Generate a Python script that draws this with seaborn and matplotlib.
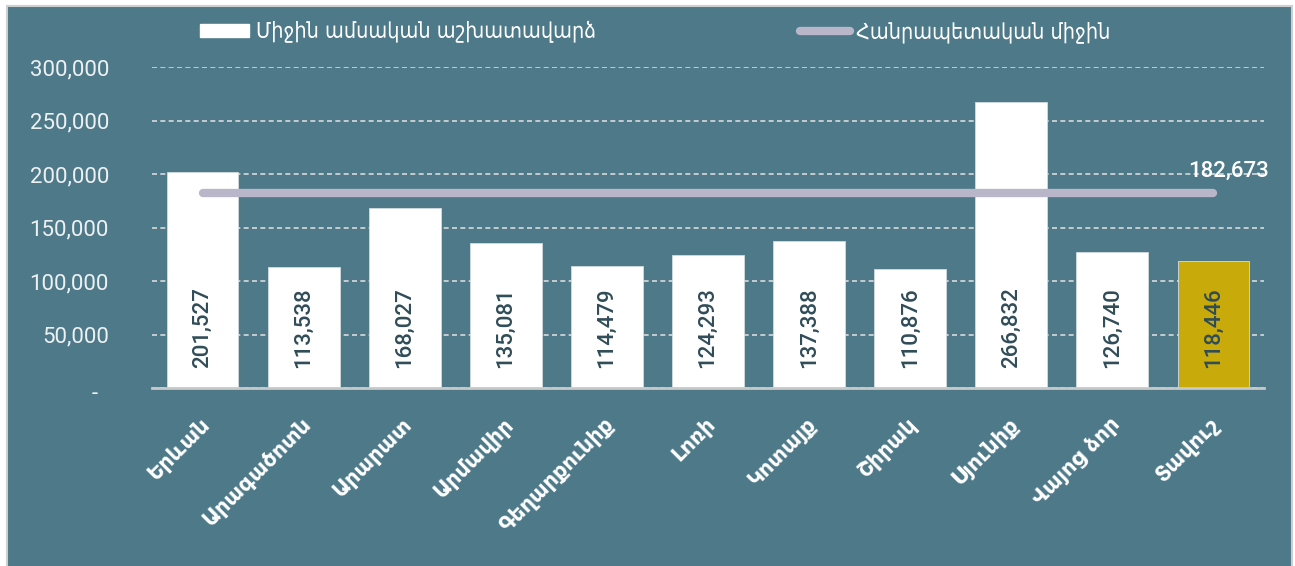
import matplotlib
matplotlib.use("Agg")
import matplotlib.pyplot as plt
import matplotlib.patches as patches
import matplotlib.transforms as mtransforms
from matplotlib.lines import Line2D
import seaborn as sns

regions = ["Երևան", "Արագածոտն", "Արարատ", "Արմավիր", "Գեղարքունիք", "Լոռի",
           "Կոտայք", "Շիրակ", "Սյունիք", "Վայոց ձոր", "Տավուշ"]
salaries = [201527, 113538, 168027, 135081, 114479, 124293,
            137388, 110876, 266832, 126740, 118446]
national_avg = 182673
yticks = [0, 50000, 100000, 150000, 200000, 250000, 300000]
legend_labels = ["Միջին ամսական աշխատավարձ", "Հանրապետական միջին"]

bg = "#4D7989"
bar_white = "#FFFFFF"
bar_gold = "#C9AA0B"
avg_color = "#B9B6C9"
label_dark = "#2F4C58"
num_font = ["Roboto", "DejaVu Sans"]

bar_colors = {r: bar_white for r in regions}
bar_colors[regions[-1]] = bar_gold

fig = plt.figure(figsize=(12.95, 5.66), dpi=100)
fig.patch.set_facecolor("white")
panel = patches.Rectangle((7 / 1295, -0.01), 1285 / 1295, 560 / 566 + 0.01,
                          transform=fig.transFigure, facecolor=bg,
                          edgecolor="#CFCFCF", linewidth=1.5, zorder=-10)
fig.add_artist(panel)

ax = fig.add_axes([152 / 1295, 1 - 388 / 566, 1112 / 1295, 321 / 566])
ax.set_facecolor("none")
ax.set_zorder(2)

sns.barplot(x=regions, y=salaries, hue=regions, palette=bar_colors, legend=False,
            saturation=1, width=0.71, edgecolor="#D3DCE0", linewidth=0.6, ax=ax, zorder=3)

# national average line
n = len(regions)
ax.plot([0, n - 1], [national_avg, national_avg], color=avg_color, lw=6,
        solid_capstyle="round", zorder=4)
ax.text(n - 1 + 0.15, national_avg + 9500, f"{national_avg:,}", color="white",
        fontsize=16, family=num_font, fontweight="medium", ha="center", va="bottom", zorder=5)

# values inside bars
for i, v in enumerate(salaries):
    ax.text(i, 19000, f"{v:,}", rotation=90, ha="center", va="bottom",
            color=label_dark, fontsize=16, family=num_font, fontweight="medium", zorder=5)

ax.set_xlim(-0.5, n - 0.5)
ax.set_ylim(0, 300000)
ax.set_yticks(yticks)
ax.set_yticklabels([f"{t:,}" if t else "-" for t in yticks],
                   family=num_font, fontsize=16, color="#EEF1F2")
ax.tick_params(axis="y", length=0, pad=31)
ax.tick_params(axis="x", length=0, pad=24)
# the zero label sits a bit further right and lower, like an accounting dash
ylabs = ax.get_yticklabels()
ylabs[0].set_transform(ylabs[0].get_transform()
                       + mtransforms.ScaledTranslation(-11 / 100, -4 / 100, fig.dpi_scale_trans))

shift = mtransforms.ScaledTranslation(4 / 100, 0, fig.dpi_scale_trans)
for lab in ax.get_xticklabels():
    lab.set_rotation(45)
    lab.set_ha("right")
    lab.set_va("center")
    lab.set_rotation_mode("anchor")
    lab.set_color("white")
    lab.set_fontweight("bold")
    lab.set_fontsize(15)
    lab.set_family("DejaVu Sans")
    lab.set_transform(lab.get_transform() + shift)

ax.yaxis.grid(True, color="#DADADA", linestyle=(0, (3, 2)), linewidth=1.2, zorder=0)
ax.set_axisbelow(True)
for side in ["top", "right", "left"]:
    ax.spines[side].set_visible(False)
ax.spines["bottom"].set_color("#C8C8C8")
ax.spines["bottom"].set_linewidth(2)
ax.spines["bottom"].set_zorder(6)
ax.set_xlabel("")
ax.set_ylabel("")

handles = [patches.Patch(facecolor=bar_white, edgecolor=bar_white),
           Line2D([], [], color=avg_color, lw=6, solid_capstyle="round")]
leg = fig.legend(handles, legend_labels, loc="center", bbox_to_anchor=(655 / 1295, 1 - 32 / 566),
                 ncol=2, frameon=False, handlelength=2.3, handleheight=0.5,
                 handletextpad=0.3, columnspacing=9.5,
                 prop={"family": "DejaVu Sans", "size": 15.5, "stretch": "condensed"})
for t in leg.get_texts():
    t.set_color("white")

fig.savefig("out.png", dpi=100, facecolor=fig.get_facecolor())
